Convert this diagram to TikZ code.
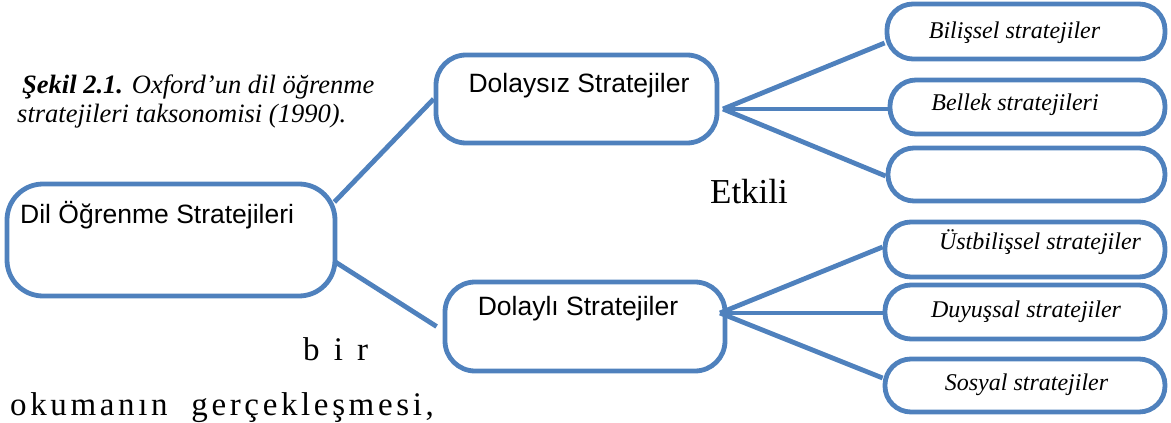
\documentclass[tikz,border=0pt]{standalone}
\usepackage{fontspec}
\setmainfont{Liberation Serif}
\newfontfamily\boxsans{Liberation Sans}
\definecolor{lineblue}{HTML}{4F81BD}
\begin{document}
\begin{tikzpicture}[x=1pt,y=-1pt,
  bigbox/.style={draw=lineblue,line width=4.8pt,rounded corners=#1,inner sep=0pt},
  bigbox/.default=32pt,
  conn/.style={draw=lineblue,line width=4.8pt},
  sanslbl/.style={inner sep=0pt,anchor=base,font=\boxsans\fontsize{26.5}{31}\selectfont},
  itlbl/.style={inner sep=0pt,anchor=base,font=\itshape\fontsize{24}{29}\selectfont},
  txt/.style={inner sep=0pt,anchor=base west}]
\useasboundingbox (0,0) rectangle (1171,423);
% main boxes
\node[bigbox=36pt,minimum width=328pt,minimum height=112pt] (dil) at (171,240) {};
\node[bigbox=30pt,minimum width=281pt,minimum height=88pt] (dolaysiz) at (576.5,99) {};
\node[bigbox=30pt,minimum width=280pt,minimum height=89pt] (dolayli) at (585,326.5) {};
% right boxes
\node[bigbox=26pt,minimum width=278pt,minimum height=55pt] (bilis) at (1026,31.5) {};
\node[bigbox=26pt,minimum width=275pt,minimum height=54pt] (bellek) at (1027.5,107) {};
\node[bigbox=26pt,minimum width=277pt,minimum height=53pt] (bos) at (1026.5,174.5) {};
\node[bigbox=26pt,minimum width=280pt,minimum height=55pt] (ustb) at (1025,249.5) {};
\node[bigbox=26pt,minimum width=280pt,minimum height=54pt] (duy) at (1025,312) {};
\node[bigbox=26pt,minimum width=280pt,minimum height=53pt] (sos) at (1025,385.5) {};
% labels
\node[txt,font=\boxsans\fontsize{26.5}{31}\selectfont] (dilt) at (20,223) {Dil Öğrenme Stratejileri};
\node[sanslbl] (dolaysizt) at (579,92) {Dolaysız Stratejiler};
\node[sanslbl] (dolaylit) at (578,315) {Dolaylı Stratejiler};
\node[itlbl] (bilist) at (1014.5,38) {Bilişsel stratejiler};
\node[itlbl] (bellekt) at (1015,110) {Bellek stratejileri};
\node[itlbl] (ustbt) at (1040,249) {Üstbilişsel stratejiler};
\node[itlbl] (duyt) at (1026,317) {Duyuşsal stratejiler};
\node[itlbl] (sost) at (1026.5,390) {Sosyal stratejiler};
% caption and stray text
\node[txt,font=\itshape\fontsize{26.5}{31}\selectfont] (cap1) at (22,93) {\textbf{Şekil 2.1.} Oxford’un dil öğrenme};
\node[txt,font=\itshape\fontsize{26.5}{31}\selectfont] (cap2) at (17,122) {stratejileri taksonomisi (1990).};
\node[inner sep=0pt,anchor=base,font=\fontsize{35}{40}\selectfont] (etkili) at (749,203) {Etkili};
\node[txt,font=\fontsize{33}{38}\selectfont\addfontfeature{LetterSpace=18}] (bir) at (303,360) {b i r};
\node[txt,font=\fontsize{33}{38}\selectfont\addfontfeature{LetterSpace=11}] (okuma) at (10,415) {okumanın\hspace{12pt} gerçekleşmesi,};
% connectors
\coordinate (f1) at (723,109);
\coordinate (f2) at (720,313);
\draw[conn] ([xshift=-3pt,yshift=38pt]dil.east) -- (dolaysiz.west);
\draw[conn] ([xshift=-2pt,yshift=-22pt]dil.east) -- ([xshift=-6pt]dolayli.west);
\draw[conn] (f1) -- ([yshift=-11.5pt]bilis.west);
\draw[conn] (f1) -- ([yshift=-2pt]bellek.west);
\draw[conn] (f1) -- ([yshift=-1.5pt]bos.west);
\draw[conn] (f2) -- ([yshift=2.5pt]ustb.west);
\draw[conn] (f2) -- ([yshift=-1pt]duy.west);
\draw[conn] (f2) -- ([yshift=7.5pt]sos.west);
\end{tikzpicture}
\end{document}
